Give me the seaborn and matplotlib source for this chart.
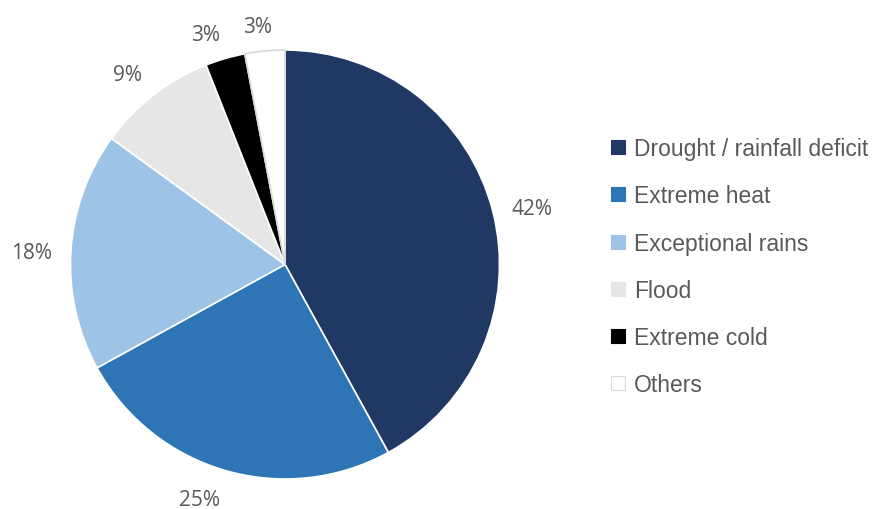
import matplotlib
matplotlib.use("Agg")
import numpy as np
import matplotlib.pyplot as plt
from matplotlib.lines import Line2D
from matplotlib.transforms import ScaledTranslation
import seaborn as sns

sns.set_theme(style="white")
plt.rcParams['font.family'] = ['Liberation Sans', 'DejaVu Sans']

categories = ["Drought / rainfall deficit", "Extreme heat", "Exceptional rains",
              "Flood", "Extreme cold", "Others"]
shares = [42, 25, 18, 9, 3, 3]
colors = sns.color_palette(["#1F3864", "#2E75B6", "#9DC3E6", "#E7E6E6", "#000000", "#FFFFFF"])
text_color = "#595959"

fig = plt.figure(figsize=(8.76, 5.10), dpi=100)
# pie axes: centre ~ (285, 265.5) px, radius ~ 214.5 px
ax = fig.add_axes([70.5 / 876, 30 / 510, 429 / 876, 429 / 510])

label_size = 15
wedges, texts, autotexts = ax.pie(
    shares, colors=colors, startangle=90, counterclock=False,
    autopct="%d%%", pctdistance=1.09, radius=1,
    wedgeprops=dict(edgecolor="white", linewidth=1.2),
    textprops=dict(color=text_color, fontsize=label_size, family=["Open Sans", "DejaVu Sans"]),
)
wedges[-1].set_edgecolor("#D9D9D9")
ax.set_xlim(-1, 1)
ax.set_ylim(-1, 1)
ax.set_aspect("equal")
ax.axis("off")

# push each label outward so its box sits outside the rim, like Excel's outside-end labels
fig.canvas.draw()
renderer = fig.canvas.get_renderer()
cap_h = label_size / 72 * fig.dpi * 0.72
for w, t in zip(wedges, autotexts):
    t.set_va("center_baseline")
    ang = np.deg2rad((w.theta1 + w.theta2) / 2)
    ux, uy = np.cos(ang), np.sin(ang)
    bb = t.get_window_extent(renderer)
    dx = np.sign(ux) * min(1, 4 * abs(ux)) * bb.width / 2 / fig.dpi
    dy = np.sign(uy) * np.clip((abs(uy) - 0.25) / 0.5, 0, 1) * cap_h / 2 / fig.dpi
    t.set_transform(ax.transData + ScaledTranslation(dx, dy, fig.dpi_scale_trans))

handles = [Line2D([0], [0], marker="s", linestyle="", markersize=9.5,
                  markerfacecolor=c, markeredgecolor="#D9D9D9" if cat == "Others" else c,
                  markeredgewidth=0.8)
           for c, cat in zip(colors, categories)]
leg = fig.legend(handles, categories, loc="upper left",
                 bbox_to_anchor=(609 / 876, 1 - 138 / 510), frameon=False,
                 fontsize=16.5, labelspacing=1.06, handlelength=0.8, handletextpad=0.3,
                 borderpad=0, borderaxespad=0)
for t in leg.get_texts():
    t.set_color(text_color)

fig.savefig("out.png", dpi=100)
